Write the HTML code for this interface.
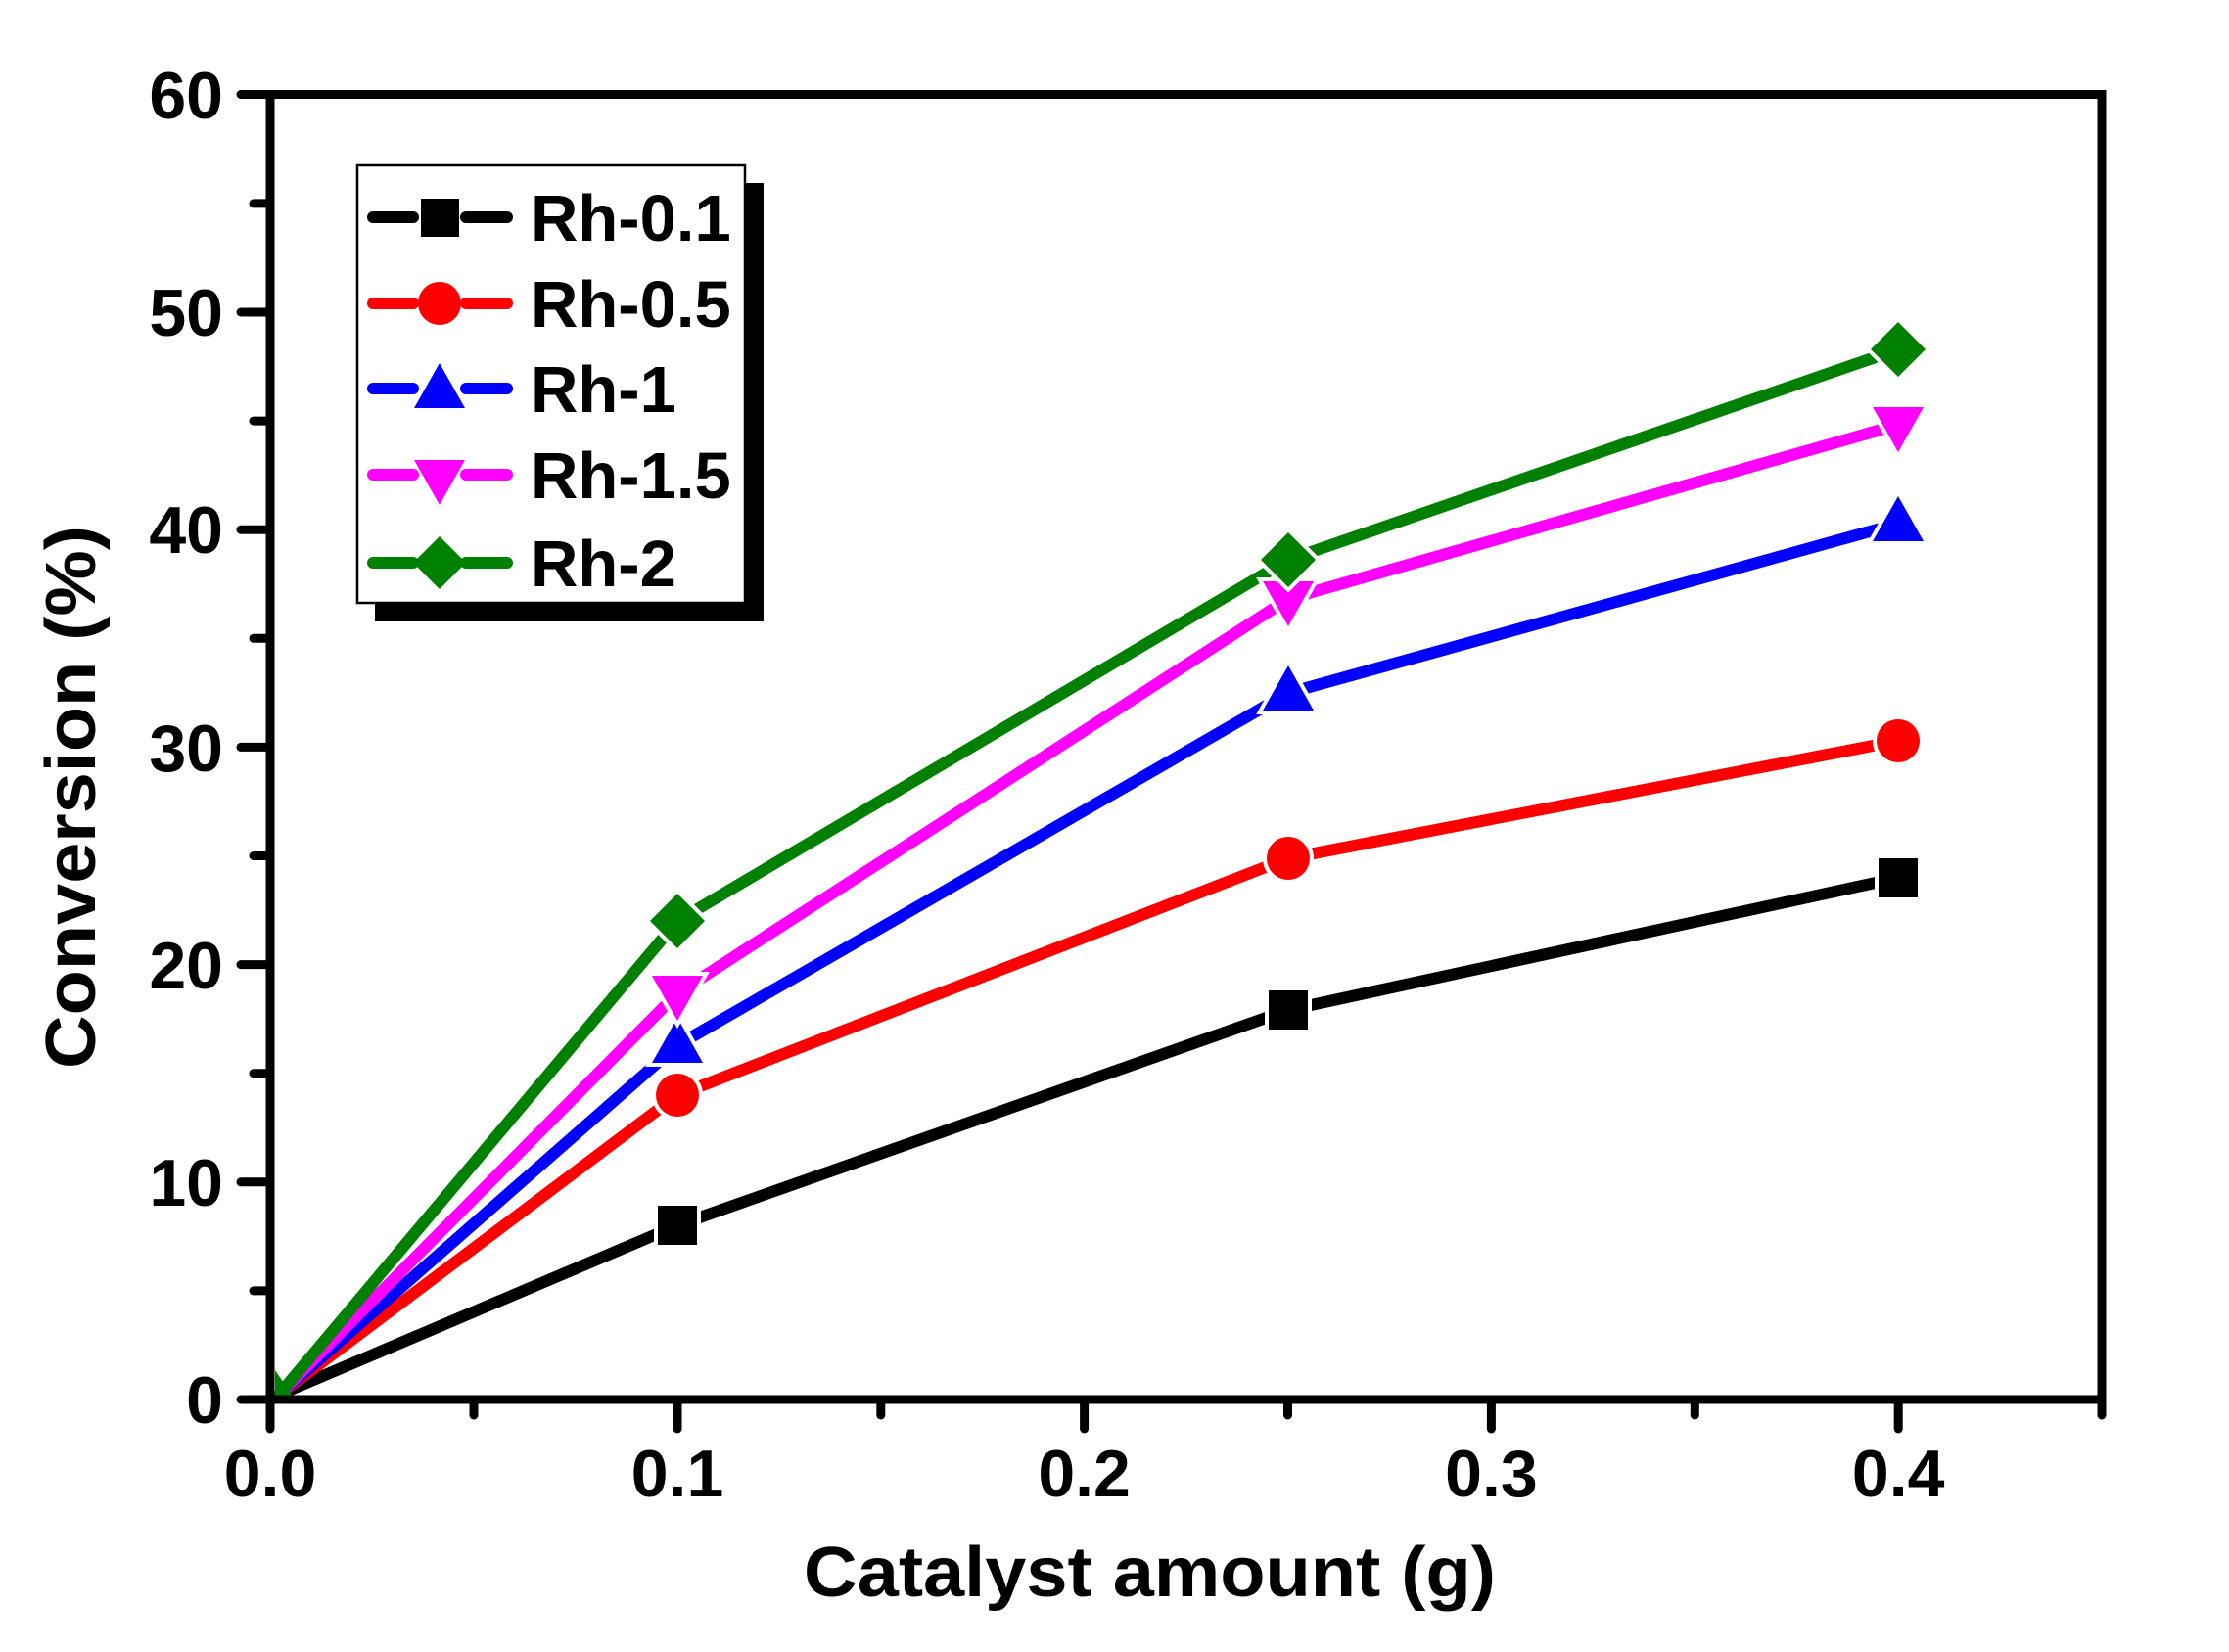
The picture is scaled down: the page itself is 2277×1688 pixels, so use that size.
<!DOCTYPE html>
<html><head><meta charset="utf-8"><style>html,body{margin:0;padding:0;background:#fff}svg{display:block}</style></head>
<body>
<svg width="2277" height="1688" viewBox="0 0 2277 1688" xmlns="http://www.w3.org/2000/svg" font-family="'Liberation Sans', sans-serif" font-weight="bold">
<rect width="2277" height="1688" fill="#fff"/>
<g fill="none" stroke-width="12" stroke-linecap="round" stroke-linejoin="round">
<polyline stroke="#000" points="285,1425 692,1252 1316,1032 1939,897"/>
<polyline stroke="#f00" points="285,1425 692,1119 1316,877 1939,757"/>
<polyline stroke="#00f" points="285,1425 692,1068 1316,708 1939,535"/>
<polyline stroke="#f0f" points="285,1425 692,1015 1316,612 1939,434"/>
<polyline stroke="#008000" points="285,1425 692,941 1316,572 1939,357"/>
</g>
<g stroke="#fff" stroke-width="8" paint-order="stroke">
<g fill="#000"><rect x="672" y="1232" width="40" height="40"/><rect x="1296" y="1012" width="40" height="40"/><rect x="1919" y="877" width="40" height="40"/></g>
<g fill="#f00"><circle cx="692" cy="1119" r="22"/><circle cx="1316" cy="877" r="22"/><circle cx="1939" cy="757" r="22"/></g>
<g fill="#00f"><polygon points="692,1040 666,1086 718,1086"/><polygon points="1316,680 1290,726 1342,726"/><polygon points="1939,507 1913,553 1965,553"/></g>
<g fill="#f0f"><polygon points="666,997 718,997 692,1043"/><polygon points="1290,594 1342,594 1316,640"/><polygon points="1913,416 1965,416 1939,462"/></g>
<g fill="#008000"><polygon points="692,913 720,941 692,969 664,941"/><polygon points="1316,544 1344,572 1316,600 1288,572"/><polygon points="1939,329 1967,357 1939,385 1911,357"/></g>
</g>
<polygon points="281,1400 300,1428 281,1428" fill="#008000"/>
<rect x="276" y="96.5" width="1871" height="1333.5" fill="none" stroke="#000" stroke-width="9"/>
<g stroke="#000" stroke-width="9" stroke-linecap="round">
<line x1="246" y1="1430" x2="276" y2="1430"/><line x1="246" y1="1207.8" x2="276" y2="1207.8"/><line x1="246" y1="985.6" x2="276" y2="985.6"/><line x1="246" y1="763.4" x2="276" y2="763.4"/><line x1="246" y1="541.2" x2="276" y2="541.2"/><line x1="246" y1="319" x2="276" y2="319"/><line x1="246" y1="96.5" x2="276" y2="96.5"/>
<line x1="259" y1="1318.9" x2="276" y2="1318.9"/><line x1="259" y1="1096.7" x2="276" y2="1096.7"/><line x1="259" y1="874.5" x2="276" y2="874.5"/><line x1="259" y1="652.3" x2="276" y2="652.3"/><line x1="259" y1="430.1" x2="276" y2="430.1"/><line x1="259" y1="207.9" x2="276" y2="207.9"/>
<line x1="276" y1="1430" x2="276" y2="1460"/><line x1="692" y1="1430" x2="692" y2="1460"/><line x1="1107.6" y1="1430" x2="1107.6" y2="1460"/><line x1="1523.4" y1="1430" x2="1523.4" y2="1460"/><line x1="1939.2" y1="1430" x2="1939.2" y2="1460"/>
<line x1="484" y1="1430" x2="484" y2="1446"/><line x1="899.8" y1="1430" x2="899.8" y2="1446"/><line x1="1315.5" y1="1430" x2="1315.5" y2="1446"/><line x1="1731.3" y1="1430" x2="1731.3" y2="1446"/><line x1="2147" y1="1430" x2="2147" y2="1446"/>
</g>
<g font-size="68" text-anchor="end" fill="#000">
<text x="228" y="1454">0</text><text x="228" y="1232">10</text><text x="228" y="1010">20</text><text x="228" y="788">30</text><text x="228" y="565">40</text><text x="228" y="343">50</text><text x="228" y="121">60</text>
</g>
<g font-size="68" text-anchor="middle" fill="#000">
<text x="276" y="1529">0.0</text><text x="692" y="1529">0.1</text><text x="1107.6" y="1529">0.2</text><text x="1523.4" y="1529">0.3</text><text x="1939.2" y="1529">0.4</text>
</g>
<text x="821" y="1631" font-size="72" textLength="707" lengthAdjust="spacingAndGlyphs" fill="#000">Catalyst amount (g)</text>
<text transform="translate(97,1092) rotate(-90)" x="0" y="0" font-size="72" textLength="555" lengthAdjust="spacingAndGlyphs" fill="#000">Conversion (%)</text>
<rect x="383" y="187" width="397" height="448" fill="#000"/>
<rect x="365" y="169" width="396" height="447" fill="#fff" stroke="#000" stroke-width="2.5"/>
<g stroke-width="12" stroke-linecap="round">
<line x1="381" y1="222" x2="422" y2="222" stroke="#000"/><line x1="476" y1="222" x2="518" y2="222" stroke="#000"/>
<line x1="381" y1="310" x2="422" y2="310" stroke="#f00"/><line x1="476" y1="310" x2="518" y2="310" stroke="#f00"/>
<line x1="381" y1="397" x2="422" y2="397" stroke="#00f"/><line x1="476" y1="397" x2="518" y2="397" stroke="#00f"/>
<line x1="381" y1="485" x2="422" y2="485" stroke="#f0f"/><line x1="476" y1="485" x2="518" y2="485" stroke="#f0f"/>
<line x1="381" y1="575" x2="422" y2="575" stroke="#008000"/><line x1="476" y1="575" x2="518" y2="575" stroke="#008000"/>
</g>
<rect x="430" y="203" width="39" height="39" fill="#000"/>
<circle cx="449" cy="310" r="22" fill="#f00"/>
<polygon points="449,371 423,417 475,417" fill="#00f"/>
<polygon points="423,470 475,470 449,516" fill="#f0f"/>
<polygon points="449,548 476,575 449,602 422,575" fill="#008000"/>
<g font-size="67" fill="#000">
<text x="542" y="246">Rh-0.1</text><text x="542" y="334">Rh-0.5</text><text x="542" y="421">Rh-1</text><text x="542" y="509">Rh-1.5</text><text x="542" y="599">Rh-2</text>
</g>
</svg>
</body></html>
